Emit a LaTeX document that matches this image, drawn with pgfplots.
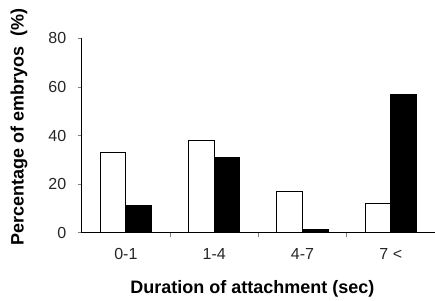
\documentclass[border=0pt]{standalone}
\usepackage{pgfplots}
\pgfplotsset{compat=1.18}
\usepackage{fontspec}
\setmainfont{Liberation Sans}
\begin{document}
\begin{tikzpicture}
\useasboundingbox (-81.7pt,-67.3pt) rectangle (353.3pt,232.7pt);
\begin{axis}[
  scale only axis,
  width=353.3pt, height=194.4pt,
  xmin=-0.5, xmax=3.5, ymin=0, ymax=80,
  axis lines*=left,
  axis line style={line width=0.8pt, -},
  ytick={0,20,40,60,80},
  xtick={0,1,2,3},
  xticklabels={0-1,1-4,4-7,7 <},
  minor xtick={0.5,1.5,2.5},
  major x tick style={draw=none},
  minor x tick style={line width=0.8pt},
  y tick style={line width=0.8pt},
  tick align=outside,
  major tick length=4pt, minor tick length=4pt,
  every tick label/.append style={font=\fontsize{16}{18}\selectfont, text=black!85},
  /pgf/number format/assume math mode=true,
  yticklabel style={xshift=-8pt},
  xticklabel style={yshift=-8pt},
  xlabel={\textbf{Duration of attachment (sec)}},
  ylabel={\textbf{Percentage of embryos\ \ (\%)}},
  label style={font=\fontsize{18}{20}\selectfont},
  xlabel style={at={(rel axis cs:0.483,0)}, anchor=center, yshift=-56.3pt},
  ylabel style={at={(rel axis cs:0,0.546)}, anchor=center, yshift=62.7pt},
  ybar, bar width=0.29,
  clip=false,
]
\addplot[draw=black, fill=white, line width=1pt, bar shift=-0.145] coordinates {(0,33) (1,38) (2,17) (3,12)};
\addplot[draw=black, fill=black, line width=1pt, bar shift=0.145] coordinates {(0,11) (1,31) (2,1.5) (3,57)};
\end{axis}
\end{tikzpicture}
\end{document}
